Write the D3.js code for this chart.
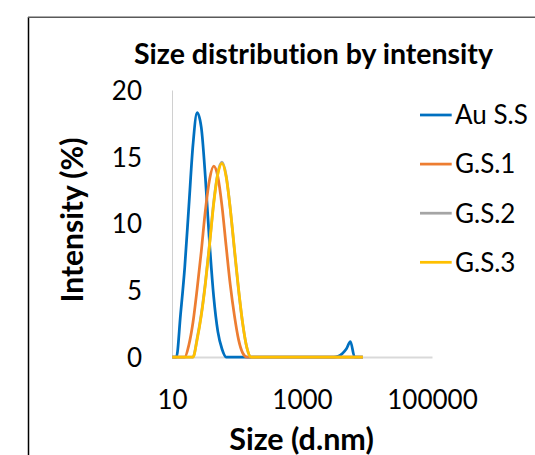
<!DOCTYPE html>
<meta charset="utf-8">
<style>
    body { margin: 0; background: #fff; }
    svg { display: block; }
    text { font-variant-ligatures: none; }
    .tick text { font-family: Lato, "Open Sans", sans-serif; font-size: 26px; fill: #000; }
    .title, .axis-title { font-family: Lato, "Open Sans", sans-serif; font-weight: bold; fill: #000; }
    .legend text { font-family: Lato, "Open Sans", sans-serif; font-size: 26px; fill: #000; }
    .series { fill: none; stroke-width: 2.75px; stroke-linejoin: round; }
</style>
<svg width="535" height="455"></svg>
<script src="https://cdn.jsdelivr.net/npm/d3@7"></script>
<script>

    // size bins (d.nm), as exported from the instrument
    const sizes = [10.1, 11.7, 13.54, 15.69, 18.17, 21.04, 24.36, 28.21, 32.67, 37.84,
        43.82, 50.75, 58.77, 68.06, 78.82, 91.28, 105.7, 122.4, 141.8, 164.2,
        190.1, 220.2, 255.0, 295.3, 342.0, 396.1, 458.7, 531.2, 615.1, 712.4,
        825.0, 955.4, 1106, 1281, 1484, 1718, 1990, 2305, 2669, 3091,
        3580, 4145, 4801, 5560, 6439, 7456, 8635];

    // intensity (%) per bin
    const auSS = [0, 0, 3.2, 6.7, 11.3, 15.9, 18.3, 17.2, 13.4, 8.5,
        4.5, 1.9, 0.6, 0, 0, 0, 0, 0, 0, 0,
        0, 0, 0, 0, 0, 0, 0, 0, 0, 0,
        0, 0, 0, 0, 0, 0, 0, 0, 0, 0,
        0.05, 0.25, 0.6, 1.15, 0, 0, 0];
    const gs1 = [0, 0, 0, 0, 0.9, 2.6, 5.1, 7.9, 11.0, 13.3,
        14.3, 13.5, 11.3, 8.3, 5.4, 3.1, 1.3, 0.3, 0, 0,
        0, 0, 0, 0, 0, 0, 0, 0, 0, 0,
        0, 0, 0, 0, 0, 0, 0, 0, 0, 0,
        0, 0, 0, 0, 0, 0, 0];
    const gs2 = [0, 0, 0, 0, 0, 0, 1.4, 3.2, 5.6, 8.5,
        11.6, 13.8, 14.6, 13.6, 11.1, 8.0, 5.0, 2.5, 0.7, 0,
        0, 0, 0, 0, 0, 0, 0, 0, 0, 0,
        0, 0, 0, 0, 0, 0, 0, 0, 0, 0,
        0, 0, 0, 0, 0, 0, 0];
    const gs3 = [0, 0, 0, 0, 0, 0, 1.3, 3.1, 5.5, 8.4,
        11.5, 13.7, 14.5, 13.5, 11.1, 8.1, 5.1, 2.5, 0.7, 0,
        0, 0, 0, 0, 0, 0, 0, 0, 0, 0,
        0, 0, 0, 0, 0, 0, 0, 0, 0, 0,
        0, 0, 0, 0, 0, 0, 0];

    const seriesNames = ["Au S.S", "G.S.1", "G.S.2", "G.S.3"];
    const seriesColors = ["#0070c0", "#ed7d31", "#a5a5a5", "#ffc000"];
    const xTicks = [10, 1000, 100000];
    const yTicks = [0, 5, 10, 15, 20];

    const series = [auSS, gs1, gs2, gs3].map(function(vals, i) {
        return {
            name: seriesNames[i],
            color: seriesColors[i],
            points: sizes.map(function(s, j) { return [s, vals[j]]; })
        };
    });

    var svg = d3.select("svg");

    // chart frame (only the left and top edges fall inside the picture)
    svg.append("line").attr("x1", 28.5).attr("x2", 28.5).attr("y1", 17).attr("y2", 455)
        .attr("stroke", "#000").attr("stroke-width", 1.5);
    svg.append("line").attr("x1", 28).attr("x2", 535).attr("y1", 17.3).attr("y2", 17.3)
        .attr("stroke", "#595959").attr("stroke-width", 1.5);

    const plot = { left: 172, right: 432, top: 90, bottom: 357 };

    var x = d3.scaleLog().domain([10, 100000]).range([plot.left, plot.right]);
    var y = d3.scaleLinear().domain([0, 20]).range([plot.bottom, plot.top]);

    // y axis
    var yAxis = svg.append("g")
        .attr("transform", "translate(" + plot.left + ",0)")
        .call(d3.axisLeft(y).tickValues(yTicks).tickSize(0).tickPadding(30));
    yAxis.select(".domain").attr("stroke", "#d0d0d0").attr("stroke-width", 1);
    yAxis.selectAll(".tick text").attr("dy", "0.36em");

    // x axis
    var xAxis = svg.append("g")
        .attr("transform", "translate(0," + plot.bottom + ")")
        .call(d3.axisBottom(x).tickValues(xTicks).tickFormat(d3.format("d")).tickSize(0).tickPadding(34));
    xAxis.select(".domain").attr("stroke", "#d9d9d9").attr("stroke-width", 2);
    xAxis.selectAll(".tick text").attr("dy", "0.71em");

    var line = d3.line()
        .x(function(d) { return x(d[0]); })
        .y(function(d) { return y(d[1]); })
        .curve(d3.curveMonotoneX);

    svg.append("g").selectAll("path")
        .data(series)
        .enter().append("path")
            .attr("class", "series")
            .attr("stroke", function(d) { return d.color; })
            .attr("d", function(d) { return line(d.points); });

    // titles
    svg.append("text").attr("class", "title")
        .attr("x", 313.5).attr("y", 64)
        .attr("text-anchor", "middle")
        .style("font-size", "28.5px")
        .text("Size distribution by intensity");

    svg.append("text").attr("class", "axis-title")
        .attr("x", 301.5).attr("y", 450)
        .attr("text-anchor", "middle")
        .style("font-size", "30.5px")
        .text("Size (d.nm)");

    svg.append("text").attr("class", "axis-title")
        .attr("transform", "translate(83,220) rotate(-90)")
        .attr("text-anchor", "middle")
        .style("font-size", "30px")
        .text("Intensity (%)");

    // legend
    var legend = svg.append("g").attr("class", "legend")
        .selectAll("g")
        .data(series)
        .enter().append("g")
            .attr("transform", function(d, i) { return "translate(420," + (115 + i * 49.1) + ")"; });

    legend.append("line")
        .attr("x1", 0).attr("x2", 31.7)
        .attr("stroke", function(d) { return d.color; })
        .attr("stroke-width", 2.75);

    legend.append("text")
        .attr("x", 35).attr("dy", "0.36em")
        .text(function(d) { return d.name; });

</script>
